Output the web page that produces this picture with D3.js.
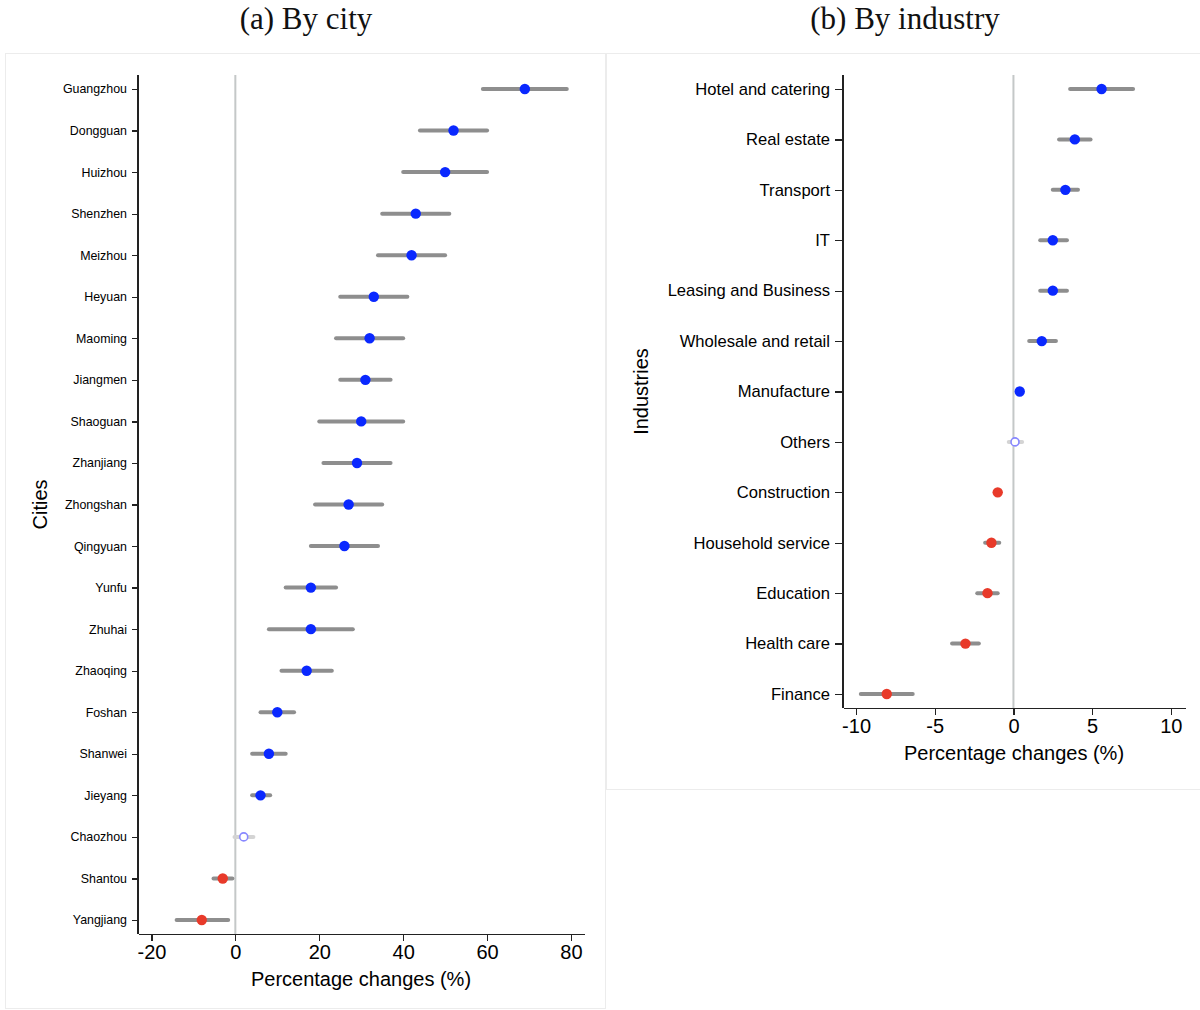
<!DOCTYPE html>
<html>
<head>
<meta charset="utf-8">
<title>Percentage changes by city and industry</title>
<script src="https://d3js.org/d3.v7.min.js"></script>
<style>
    body { margin: 0; background: #fff; }
    svg { display: block; }
    .title { font-family: "Liberation Serif", "DejaVu Serif", serif; font-size: 31px; fill: #111; }
    .axis path, .axis line { stroke: #222; stroke-width: 1.3; shape-rendering: crispEdges; }
    .axis text { font-family: "Liberation Sans", Arial, sans-serif; fill: #000; }
    .lab { font-family: "Liberation Sans", Arial, sans-serif; fill: #000; }
    .frame { fill: none; stroke: #ececec; stroke-width: 1; }
    .ci { stroke: #8e8e8e; stroke-width: 4; stroke-linecap: round; }
    .ci.ns { stroke: #d4d4d4; }
</style>
</head>
<body>
<svg width="1200" height="1010"></svg>
<script>
// (a) by city: estimate, lower and upper bound of interval
const cities = ["Guangzhou", "Dongguan", "Huizhou", "Shenzhen", "Meizhou", "Heyuan", "Maoming",
    "Jiangmen", "Shaoguan", "Zhanjiang", "Zhongshan", "Qingyuan", "Yunfu", "Zhuhai",
    "Zhaoqing", "Foshan", "Shanwei", "Jieyang", "Chaozhou", "Shantou", "Yangjiang"];
const cityEst = [69, 52, 50, 43, 42, 33, 32, 31, 30, 29, 27, 26, 18, 18, 17, 10, 8, 6, 2, -3, -8];
const cityLo  = [59, 44, 40, 35, 34, 25, 24, 25, 20, 21, 19, 18, 12, 8, 11, 6, 4, 4, -0.2, -5.2, -14];
const cityHi  = [79, 60, 60, 51, 50, 41, 40, 37, 40, 37, 35, 34, 24, 28, 23, 14, 12, 8.3, 4.3, -0.7, -1.7];
const cityTicks = [-20, 0, 20, 40, 60, 80];

// (b) by industry
const industries = ["Hotel and catering", "Real estate", "Transport", "IT", "Leasing and Business",
    "Wholesale and retail", "Manufacture", "Others", "Construction", "Household service",
    "Education", "Health care", "Finance"];
const indEst = [5.6, 3.9, 3.3, 2.5, 2.5, 1.8, 0.4, 0.1, -1.0, -1.4, -1.65, -3.05, -8.05];
const indLo  = [3.6, 2.9, 2.5, 1.7, 1.7, 1.0, 0.3, -0.3, -1.1, -1.8, -2.3, -3.9, -9.7];
const indHi  = [7.6, 4.9, 4.1, 3.4, 3.4, 2.7, 0.55, 0.55, -0.85, -0.9, -1.0, -2.2, -6.4];
const indTicks = [-10, -5, 0, 5, 10];

const svg = d3.select("svg");
svg.append("rect").attr("width", 1200).attr("height", 1010).attr("fill", "#fff");

function panel(opt) {
    const g = svg.append("g");
    g.append("rect").attr("class", "frame")
        .attr("x", opt.frame[0]).attr("y", opt.frame[1])
        .attr("width", opt.frame[2]).attr("height", opt.frame[3]);

    g.append("text").attr("class", "title")
        .attr("x", opt.titleX).attr("y", 29)
        .attr("text-anchor", "middle").text(opt.title);

    const x = d3.scaleLinear().domain(opt.xDomain).range([opt.left, opt.right]);
    const y = d3.scalePoint().domain(opt.cats).range([opt.top + opt.pad, opt.bottom - opt.pad]);

    // zero line
    g.append("line")
        .attr("x1", x(0)).attr("x2", x(0))
        .attr("y1", opt.top).attr("y2", opt.bottom)
        .attr("stroke", "#c4c8c8").attr("stroke-width", 2);

    const xa = g.append("g").attr("class", "axis")
        .attr("transform", "translate(0," + opt.bottom + ")")
        .call(d3.axisBottom(x).tickValues(opt.ticks).tickFormat(d => String(d))
            .tickSize(7).tickSizeOuter(0).tickPadding(4));
    xa.selectAll("text").style("font-size", "20px");

    const ya = g.append("g").attr("class", "axis")
        .attr("transform", "translate(" + opt.left + ",0)")
        .call(d3.axisLeft(y).tickSize(opt.ytick).tickSizeOuter(0).tickPadding(5));
    ya.select(".domain").attr("d", "M0," + opt.top + "V" + opt.bottom);
    ya.selectAll("text").style("font-size", opt.yFont + "px");

    g.append("text").attr("class", "lab")
        .attr("x", (opt.left + opt.right) / 2).attr("y", opt.bottom + 52)
        .attr("text-anchor", "middle").style("font-size", "20px")
        .text("Percentage changes (%)");

    g.append("text").attr("class", "lab")
        .attr("transform", "translate(" + opt.yLabX + "," + ((opt.top + opt.bottom) / 2) + ") rotate(-90)")
        .attr("text-anchor", "middle").style("font-size", "20px")
        .text(opt.yLabel);

    const rows = opt.cats.map((c, i) => ({ c: c, est: opt.est[i], lo: opt.lo[i], hi: opt.hi[i] }));
    const sig = d => d.lo > 0 ? 1 : (d.hi < 0 ? -1 : 0);

    g.selectAll(".ci").data(rows).join("line")
        .attr("class", d => sig(d) === 0 ? "ci ns" : "ci")
        .attr("x1", d => x(d.lo)).attr("x2", d => x(d.hi))
        .attr("y1", d => y(d.c)).attr("y2", d => y(d.c));

    g.selectAll(".pt").data(rows).join("circle")
        .attr("class", "pt")
        .attr("cx", d => x(d.est)).attr("cy", d => y(d.c))
        .attr("r", d => sig(d) === 0 ? 4 : 5.2)
        .attr("fill", d => sig(d) === 1 ? "#0a28ff" : (sig(d) === -1 ? "#e83a2a" : "#fff"))
        .attr("stroke", d => sig(d) === 0 ? "#8888ff" : "none")
        .attr("stroke-width", 1.6);
}

panel({
    title: "(a) By city", titleX: 306,
    frame: [5.5, 53.5, 600, 955],
    cats: cities, est: cityEst, lo: cityLo, hi: cityHi, ticks: cityTicks,
    xDomain: [-23.2, 83.1], left: 138, right: 584, top: 75, bottom: 934, pad: 14,
    ytick: 6, yFont: 12.4, yLabel: "Cities", yLabX: 47
});

panel({
    title: "(b) By industry", titleX: 905,
    frame: [606.5, 53.5, 600, 736],
    cats: industries, est: indEst, lo: indLo, hi: indHi, ticks: indTicks,
    xDomain: [-10.83, 10.9], left: 843, right: 1185, top: 75, bottom: 708, pad: 14,
    ytick: 8, yFont: 16.6, yLabel: "Industries", yLabX: 648
});
</script>
</body>
</html>
